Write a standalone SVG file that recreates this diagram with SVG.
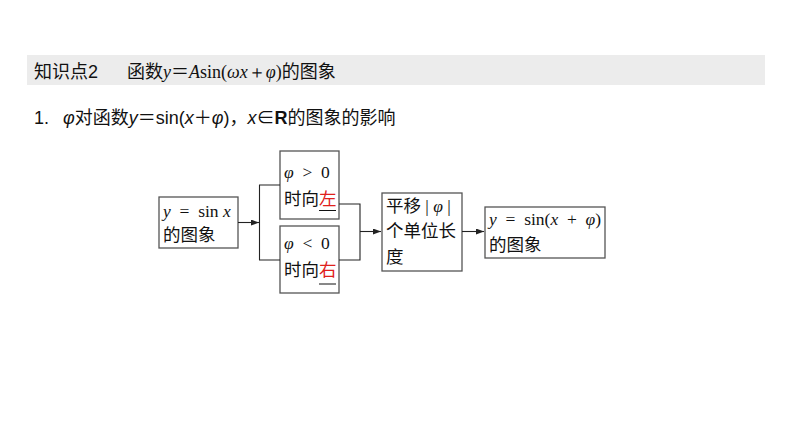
<svg xmlns="http://www.w3.org/2000/svg" width="794" height="447" viewBox="0 0 794 447">
<style>
.b{fill:#fff;stroke:#555;stroke-width:1.3}
.t{font-family:"Liberation Serif","Noto Sans CJK SC",serif;font-size:17.5px;fill:#111;white-space:pre}
.i{font-style:italic}
.c{stroke:#222;stroke-width:1.1;fill:none}
</style>
<defs><marker id="a" markerWidth="8" markerHeight="6" refX="8" refY="3" orient="auto" markerUnits="userSpaceOnUse"><path d="M0,0L8,3L0,6z" fill="#222"/></marker></defs>
<rect width="794" height="447" fill="#fff"/>
<rect x="27" y="55" width="738" height="30" fill="#ececec"/>
<text x="34" y="78" style="font-family:'Liberation Sans','Noto Sans CJK SC',sans-serif;font-size:18px" fill="#111">知识点2<tspan x="127">函数</tspan><tspan style="font-family:'Liberation Serif',serif" font-style="italic">y</tspan>＝<tspan style="font-family:'Liberation Serif',serif"><tspan font-style="italic">A</tspan>sin(<tspan font-style="italic">ωx</tspan>＋<tspan font-style="italic">φ</tspan>)</tspan>的图象</text>
<text x="34" y="124" style="font-family:'Liberation Sans','Noto Sans CJK SC',sans-serif;font-size:18px" fill="#111">1.<tspan x="63" font-style="italic">φ</tspan>对函数<tspan font-style="italic">y</tspan>＝sin(<tspan font-style="italic">x</tspan>＋<tspan font-style="italic">φ</tspan>)，<tspan font-style="italic">x</tspan>∈<tspan font-weight="bold">R</tspan>的图象的影响</text>
<g id="n1"><rect class="b" x="159" y="197" width="79" height="51"/><text class="t" x="163" y="217"><tspan class="i">y</tspan>  =  sin <tspan class="i">x</tspan></text><text class="t" x="163" y="241">的图象</text></g>
<g id="n2"><rect class="b" x="280" y="151" width="59" height="68"/><text class="t" x="284" y="178"><tspan class="i">φ</tspan>  &gt;  0</text><text class="t" x="284" y="205">时向<tspan fill="#e0201c">左</tspan></text><line x1="319" y1="210.5" x2="336" y2="210.5" stroke="#111"/></g>
<g id="n3"><rect class="b" x="280" y="226" width="59" height="67"/><text class="t" x="284" y="249"><tspan class="i">φ</tspan>  &lt;  0</text><text class="t" x="284" y="276">时向<tspan fill="#e0201c">右</tspan></text><line x1="319" y1="284" x2="336" y2="284" stroke="#111"/></g>
<g id="n4"><rect class="b" x="382" y="193" width="80" height="78"/><text class="t" x="386" y="212">平移 | <tspan class="i">φ</tspan> |</text><text class="t" x="386" y="237">个单位长</text><text class="t" x="386" y="263">度</text></g>
<g id="n5"><rect class="b" x="485" y="207" width="120" height="51"/><text class="t" x="489" y="225"><tspan class="i">y</tspan>  =  sin(<tspan class="i">x</tspan>  +  <tspan class="i">φ</tspan>)</text><text class="t" x="489" y="251">的图象</text></g>
<g id="connectors">
<line class="c" x1="238" y1="222.5" x2="259" y2="222.5" marker-end="url(#a)"/>
<polyline class="c" points="280,185 259.5,185 259.5,260 280,260"/>
<polyline class="c" points="339,204 360,204 360,260 339,260"/>
<line class="c" x1="360" y1="231.5" x2="381" y2="231.5" marker-end="url(#a)"/>
<line class="c" x1="462" y1="231.5" x2="484" y2="231.5" marker-end="url(#a)"/>
</g>
</svg>
